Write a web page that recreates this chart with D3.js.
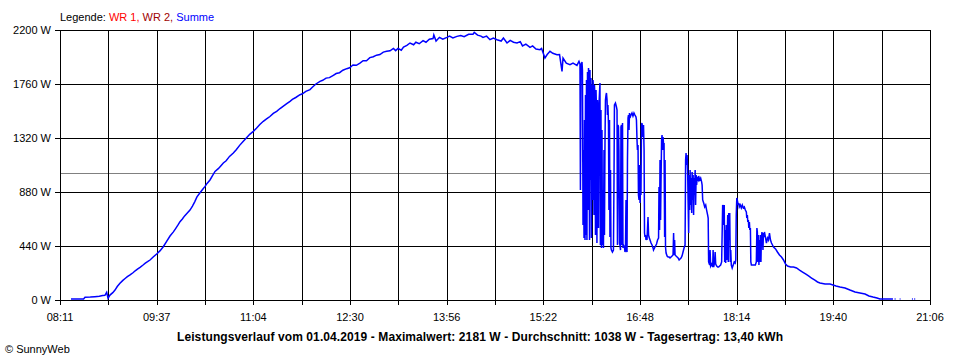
<!DOCTYPE html>
<html><head><meta charset="utf-8">
<script src="https://cdn.jsdelivr.net/npm/d3@7"></script>
<style>
body{margin:0;background:#fff}
svg{display:block}
text{font-family:Arial,"Liberation Sans",sans-serif;font-size:11px}
</style>
</head><body>
<svg id="c" width="960" height="360"></svg>
<script>
// ---- data ----
const timeDomain = [491, 1266]; // minutes after midnight: 08:11 .. 21:06
const xTickLabels = ["08:11","09:37","11:04","12:30","13:56","15:22","16:48","18:14","19:40","21:06"];
const yTicks = [0, 440, 880, 1320, 1760, 2200];
const average = 1038;
const legendParts = [
  {text: "Legende: ", color: "#000000"},
  {text: "WR 1, ", color: "#ff0000"},
  {text: "WR 2, ", color: "#a00000"},
  {text: "Summe", color: "#0000ff"}
];
const title = "Leistungsverlauf vom 01.04.2019 - Maximalwert: 2181 W - Durchschnitt: 1038 W - Tagesertrag: 13,40 kWh";
const footer = "\u00A9 SunnyWeb";

// Summe: [minutes after midnight, W]; null = gap
const summe = [
[500.8,8],[512,8],[513.3,22],[518,24],[522,27],[526,30],[529,36],[531,38],[532.6,63],[533.8,14],[535.5,40],[538,60],[540,81],[542,110],[544.4,136],[547,160],[549,175],[551,190],[553.4,204],[556,222],[558,238],[560,252],[562.3,266],[565,285],[567,300],[569,312],[571.2,326],[574,350],[577.1,375],[580,400],[583,434],[586,478],[589,521],[592,555],[594,582],[596,610],[597.9,638],[600,660],[602,685],[604,705],[606.8,733],[609,765],[611,800],[613,840],[615.7,874],[618,900],[620.2,926],[622,950],[624.6,978],[627,1015],[629.1,1048],[632,1070],[634,1090],[636.5,1116],[639,1135],[642,1170],[645.4,1198],[648,1225],[651,1260],[654.3,1293],[657,1320],[660,1350],[663.2,1374],[666,1400],[669,1430],[672.1,1456],[675,1475],[678,1495],[681,1520],[684,1537],[687,1560],[690,1580],[693,1600],[695.9,1619],[698,1635],[701,1650],[704.8,1673],[707,1680],[710,1700],[713.7,1714],[716,1735],[719,1760],[722.6,1782],[725,1790],[728,1808],[731,1812],[734.5,1831],[737,1845],[740,1852],[743,1872],[746.4,1885],[749,1892],[752,1915],[755,1912],[758.2,1931],[761,1950],[764,1950],[767,1975],[770.1,1982],[773,1995],[776,2000],[779,2020],[782,2026],[785,2030],[788,2050],[790,2032],[792.1,2050],
[795,2035],[797,2060],[800,2075],[802.8,2094],[806,2080],[808,2100],[811,2088],[814.4,2113],[817,2100],[820,2125],[823.3,2130],[824,2160],[826,2110],[829,2140],[832,2125],[835.7,2140],[838,2150],[841,2135],[844.6,2148],[848,2155],[851,2145],[855,2165],[858.9,2165],[860,2181],[863,2158],[866,2150],[867.8,2140],[871,2150],[874,2121],[877,2135],[880.3,2121],[884,2110],[886,2135],[889.2,2094],[892,2115],[895,2100],[898.1,2094],[901,2105],[903,2070],[906,2085],[909.7,2059],[912,2070],[915,2045],[918.6,2040],[920,2050],[923,1972],[925,2000],[927.5,2026],[930,2010],[933.7,1999],[936,2000],[938.2,1863],[939.1,1972],[942,1930],[945.3,1917],[948,1930],[951.5,1912],[953.3,1945],
[954.2,1923],[954.6,896],[955.1,1907],[956.0,1939],[956.4,1874],[956.9,611],[957.3,1222],[957.8,505],[958.2,1467],[958.7,489],[959.1,1670],[959.5,530],[960.0,1793],[960.4,489],[960.9,1858],[961.3,733],[961.8,1890],[962.2,1833],[962.7,489],[963.1,1874],[963.5,978],[964.0,1809],[964.4,505],[964.9,1752],[965.3,815],[965.8,1793],[966.2,1727],[966.7,693],[967.1,1752],[967.6,1630],[968.0,530],[968.5,1711],[968.9,1548],[969.3,464],[969.8,1630],[970.2,1467],[970.7,587],[971.1,1589],[971.6,1687],[972.0,1768],[972.4,448],[972.9,1548],[973.3,424],[973.8,1385],[974.2,448],[974.7,896],[975.1,424],[975.6,1222],[976.0,530],[976.5,1304],[976.9,1630],[977.4,1670],[977.8,1687],[978.3,1630],[978.7,1507],[979.1,1589],[979.6,1426],[980.0,733],[980.5,1467],[980.9,513],[981.4,1059],[981.8,424],[982.2,407],[983.1,391],[984.0,407],[984.5,978],[984.9,1589],[985.8,1605],[986.7,1573],[987.2,1548],[987.6,448],[988.1,1426],[988.5,1410],[988.9,1222],[989.4,464],[989.8,448],[990.3,407],[990.7,1410],[991.2,1426],[991.6,448],[992.1,1442],[992.5,424],[992.9,448],[993.8,432],[994.3,391],[994.7,407],[995.2,815],[995.6,407],[996.1,391],[996.5,1141],[997.0,1483],[997.4,1507],[997.9,1385],[998.3,1524],[998.7,1483],[999.6,1507],[1000.5,1524],[1001.4,1499],[1002.3,1524],[1003.2,1507],[1004.1,1491],[1004.5,1467],[1005.0,1304],[1005.4,1222],[1005.9,1263],[1006.3,856],[1006.8,815],[1007.2,1100],[1007.7,790],[1008.1,896],[1008.5,856],[1009.0,1426],[1009.4,1442],[1009.9,1410],[1010.3,1328],[1010.8,1426],[1011.3,1222],[1011.7,546],[1012.1,513],[1012.6,530],[1013.0,489],[1013.5,513],[1013.9,489],[1014.8,676],[1015.3,530],[1015.7,513],[1016.6,489],[1017.5,464],[1018.4,448],[1019.3,424],[1019.7,407],[1020.6,424],[1021.5,440],[1022.4,456],[1023.3,489],[1024.2,505],[1024.6,921],[1025.1,570],[1025.5,1141],[1026.0,652],[1026.4,978],[1026.9,1304],[1027.3,1344],[1027.8,1222],[1028.2,1328],[1028.7,1263],[1029.1,1279],[1029.6,513],[1030.0,1141],[1030.4,432],[1030.9,383],[1031.8,358],[1032.7,350],[1033.6,350],[1034.4,342],[1035.3,350],[1036.2,358],[1037.1,367],[1037.6,546],[1038.0,367],[1038.5,489],[1038.9,367],[1039.8,358],[1040.7,350],[1041.6,342],[1042.5,326],[1043.3,334],[1044.2,342],[1045.1,358],[1046.0,391],[1046.9,424],[1047.8,448],[1048.3,1141],[1048.7,1198],[1049.2,1100],[1049.6,1181],[1050.1,1059],[1050.5,815],[1051.0,546],[1051.4,1018],[1051.9,733],[1052.3,1059],[1052.8,774],[1053.2,994],[1053.7,709],[1054.1,1043],[1054.5,815],[1055.0,1018],[1055.4,693],[1055.9,994],[1056.3,856],[1056.8,1059],[1057.2,774],[1057.7,1018],[1058.1,937],[1058.6,994],[1059.5,978],[1059.9,1010],[1060.8,978],[1061.7,994],[1062.6,961],[1063.0,937],[1063.5,815],[1064.4,790],[1065.3,758],[1066.2,774],[1067.0,733],[1067.9,693],[1068.4,668],[1068.8,310],[1069.7,285],[1070.1,407],[1070.6,277],[1071.5,293],[1071.9,285],[1072.4,269],[1072.8,407],[1073.3,269],[1074.2,310],[1074.6,391],[1075.1,293],[1076.0,277],[1076.9,269],[1077.7,269],[1078.6,277],[1079.5,285],[1080.4,310],[1080.9,570],[1081.3,774],[1081.8,758],[1082.2,611],[1082.7,774],[1083.1,310],[1083.6,570],[1084.0,301],[1084.5,611],[1084.9,326],[1085.4,530],[1085.8,693],[1086.3,310],[1086.7,709],[1087.2,489],[1087.6,709],[1088.1,310],[1088.5,407],[1089.0,285],[1089.8,261],[1090.7,285],[1091.6,310],[1092.5,301],[1093.0,326],[1093.4,693],[1093.9,831],[1094.3,815],[1095.2,774],[1095.7,790],[1096.1,758],[1097.0,774],[1097.9,750],[1098.8,774],[1099.7,750],[1100.6,758],[1101.5,733],[1102.4,717],[1102.8,668],[1103.3,693],[1103.7,636],[1104.2,652],[1104.6,587],[1105.1,636],[1105.5,570],[1106.0,587],[1106.4,310],[1106.9,285],[1107.8,285],[1108.7,285],[1109.6,285],[1110.4,285],[1111.3,310],[1111.8,587],[1112.2,554],[1112.7,310],[1113.1,530],[1113.6,285],[1114.0,489],[1114.5,310],[1114.9,530],[1115.4,310],[1115.8,505],[1116.3,554],[1116.7,530],[1117.2,407],[1117.6,546],[1118.1,513],[1118.5,554],[1119.4,513],[1120.3,464],[1121.2,505],[1122.1,489],[1123.0,546],[1123.9,489],[1124.8,464],[1125.7,448],[1126.6,432],[1128.4,416],[1130.1,391],[1131.9,367],[1133.7,350],[1135.5,326],[1137.3,293],[1139.1,277],[1141.8,269],[1144.4,269],[1147.1,261],[1149.8,244],[1152.5,228],[1155.1,212],[1157.8,196],[1160.5,179],[1163.1,163],[1165.8,147],[1168.0,139],[1172.5,130],[1176.9,130],[1179.6,122],[1182.3,114],[1185.8,106],[1190.3,98],[1194.7,81],[1199.2,65],[1203.6,57],[1208.1,49],[1211.6,33],[1215.2,24],[1218.8,16],[1221.4,8],[1233.0,8],
null,[1234.5,8],[1235.3,8],null,[1239.0,8],[1239.7,8],null,[1249.9,8],[1250.7,8],null,[1252.0,8],[1252.8,8]
];

// ---- drawing ----
const svg = d3.select("#c");
const pL = 60, pR = 930, pT = 30, pB = 300;
const x = d3.scaleLinear().domain(timeDomain).range([pL, pR]);
const y = d3.scaleLinear().domain([0, 2200]).range([pB, pT]);

// average line (grey)
svg.append("line")
  .attr("x1", pL).attr("x2", pR)
  .attr("y1", Math.round(y(average)) + 0.5).attr("y2", Math.round(y(average)) + 0.5)
  .attr("stroke", "#808080").attr("stroke-width", 1);

// vertical grid lines (18 intervals)
const nInt = 18;
const gridT = d3.range(nInt + 1).map(i => timeDomain[0] + i * (timeDomain[1] - timeDomain[0]) / nInt);
svg.append("g").selectAll("line").data(gridT).join("line")
  .attr("x1", d => Math.round(x(d)) + 0.5).attr("x2", d => Math.round(x(d)) + 0.5)
  .attr("y1", pT).attr("y2", pB + 5)
  .attr("stroke", "#000").attr("stroke-width", 1);

// horizontal grid lines
svg.append("g").selectAll("line").data(yTicks).join("line")
  .attr("x1", pL - 5).attr("x2", pR + 0.5)
  .attr("y1", d => Math.round(y(d)) + 0.5).attr("y2", d => Math.round(y(d)) + 0.5)
  .attr("stroke", "#000").attr("stroke-width", 1);

// y labels
svg.append("g").selectAll("text").data(yTicks).join("text")
  .attr("x", 51).attr("y", d => y(d) + 4)
  .attr("text-anchor", "end").attr("fill", "#000")
  .text(d => d + " W");

// x labels (every second grid line)
svg.append("g").selectAll("text").data(xTickLabels).join("text")
  .attr("x", (d, i) => x(gridT[i * 2]))
  .attr("y", 321)
  .attr("text-anchor", "middle").attr("fill", "#000")
  .text(d => d);

// data line
const line = d3.line()
  .defined(d => d !== null)
  .x(d => x(d[0])).y(d => y(d[1]));
svg.append("path").datum(summe)
  .attr("d", line)
  .attr("fill", "none").attr("stroke", "#0000ff")
  .attr("stroke-width", 1.5).attr("stroke-linejoin", "miter");

// legend
const lg = svg.append("text").attr("x", 60).attr("y", 20.5).attr("xml:space", "preserve");
lg.selectAll("tspan").data(legendParts).join("tspan")
  .attr("fill", d => d.color)
  .text(d => d.text);

// title
svg.append("text").attr("x", 177).attr("y", 340.5)
  .attr("text-anchor", "start").attr("font-weight", "bold").attr("fill", "#000")
  .style("font-size", "12px")
  .attr("textLength", 606).attr("lengthAdjust", "spacing")
  .text(title);

// footer
svg.append("text").attr("x", 5).attr("y", 353).attr("fill", "#000").text(footer);
</script>
</body></html>
